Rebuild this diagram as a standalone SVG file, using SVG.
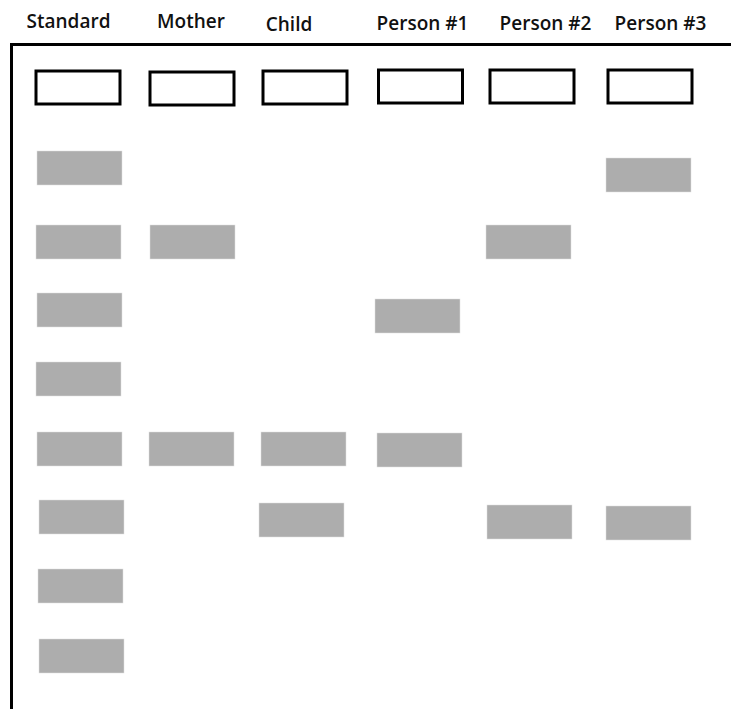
<svg xmlns="http://www.w3.org/2000/svg" width="731" height="709" viewBox="0 0 731 709">
<style>
.lbl{font-family:"Open Sans","Liberation Sans",sans-serif;font-weight:600;font-size:19px;fill:#111;text-anchor:middle}
.well{fill:#fff;stroke:#000;stroke-width:3}
.band{fill:#adadad;stroke:#e0e0e0;stroke-width:0.5}
.frame{fill:none;stroke:#000;stroke-width:3}
</style>
<rect width="731" height="709" fill="#fff"/>
<g id="labels">
<text class="lbl" x="68.5" y="28">Standard</text>
<text class="lbl" x="191" y="28">Mother</text>
<text class="lbl" x="289" y="31">Child</text>
<text class="lbl" x="422.5" y="30">Person #1</text>
<text class="lbl" x="545.5" y="30">Person #2</text>
<text class="lbl" x="660.5" y="30">Person #3</text>
</g>
<g id="gel-frame">
<polyline class="frame" points="11.5,709 11.5,44.5 731,44.5"/>
</g>
<g id="wells">
<rect class="well" x="36" y="71" width="84" height="33"/>
<rect class="well" x="150" y="72" width="84" height="33"/>
<rect class="well" x="263" y="71" width="84" height="33"/>
<rect class="well" x="378.5" y="70" width="84" height="33"/>
<rect class="well" x="490" y="70" width="84" height="33"/>
<rect class="well" x="608" y="70" width="84" height="33"/>
</g>
<g id="lane-standard">
<rect class="band" x="37" y="151" width="85" height="34"/>
<rect class="band" x="36" y="225" width="85" height="34"/>
<rect class="band" x="37" y="293" width="85" height="34"/>
<rect class="band" x="36" y="362" width="85" height="34"/>
<rect class="band" x="37" y="432" width="85" height="34"/>
<rect class="band" x="39" y="500" width="85" height="34"/>
<rect class="band" x="38" y="569" width="85" height="34"/>
<rect class="band" x="39" y="639" width="85" height="34"/>
</g>
<g id="lane-mother">
<rect class="band" x="150" y="225" width="85" height="34"/>
<rect class="band" x="149" y="432" width="85" height="34"/>
</g>
<g id="lane-child">
<rect class="band" x="261" y="432" width="85" height="34"/>
<rect class="band" x="259" y="503" width="85" height="34"/>
</g>
<g id="lane-person1">
<rect class="band" x="375" y="299" width="85" height="34"/>
<rect class="band" x="377" y="433" width="85" height="34"/>
</g>
<g id="lane-person2">
<rect class="band" x="486" y="225" width="85" height="34"/>
<rect class="band" x="487" y="505" width="85" height="34"/>
</g>
<g id="lane-person3">
<rect class="band" x="606" y="158" width="85" height="34"/>
<rect class="band" x="606" y="506" width="85" height="34"/>
</g>
</svg>
